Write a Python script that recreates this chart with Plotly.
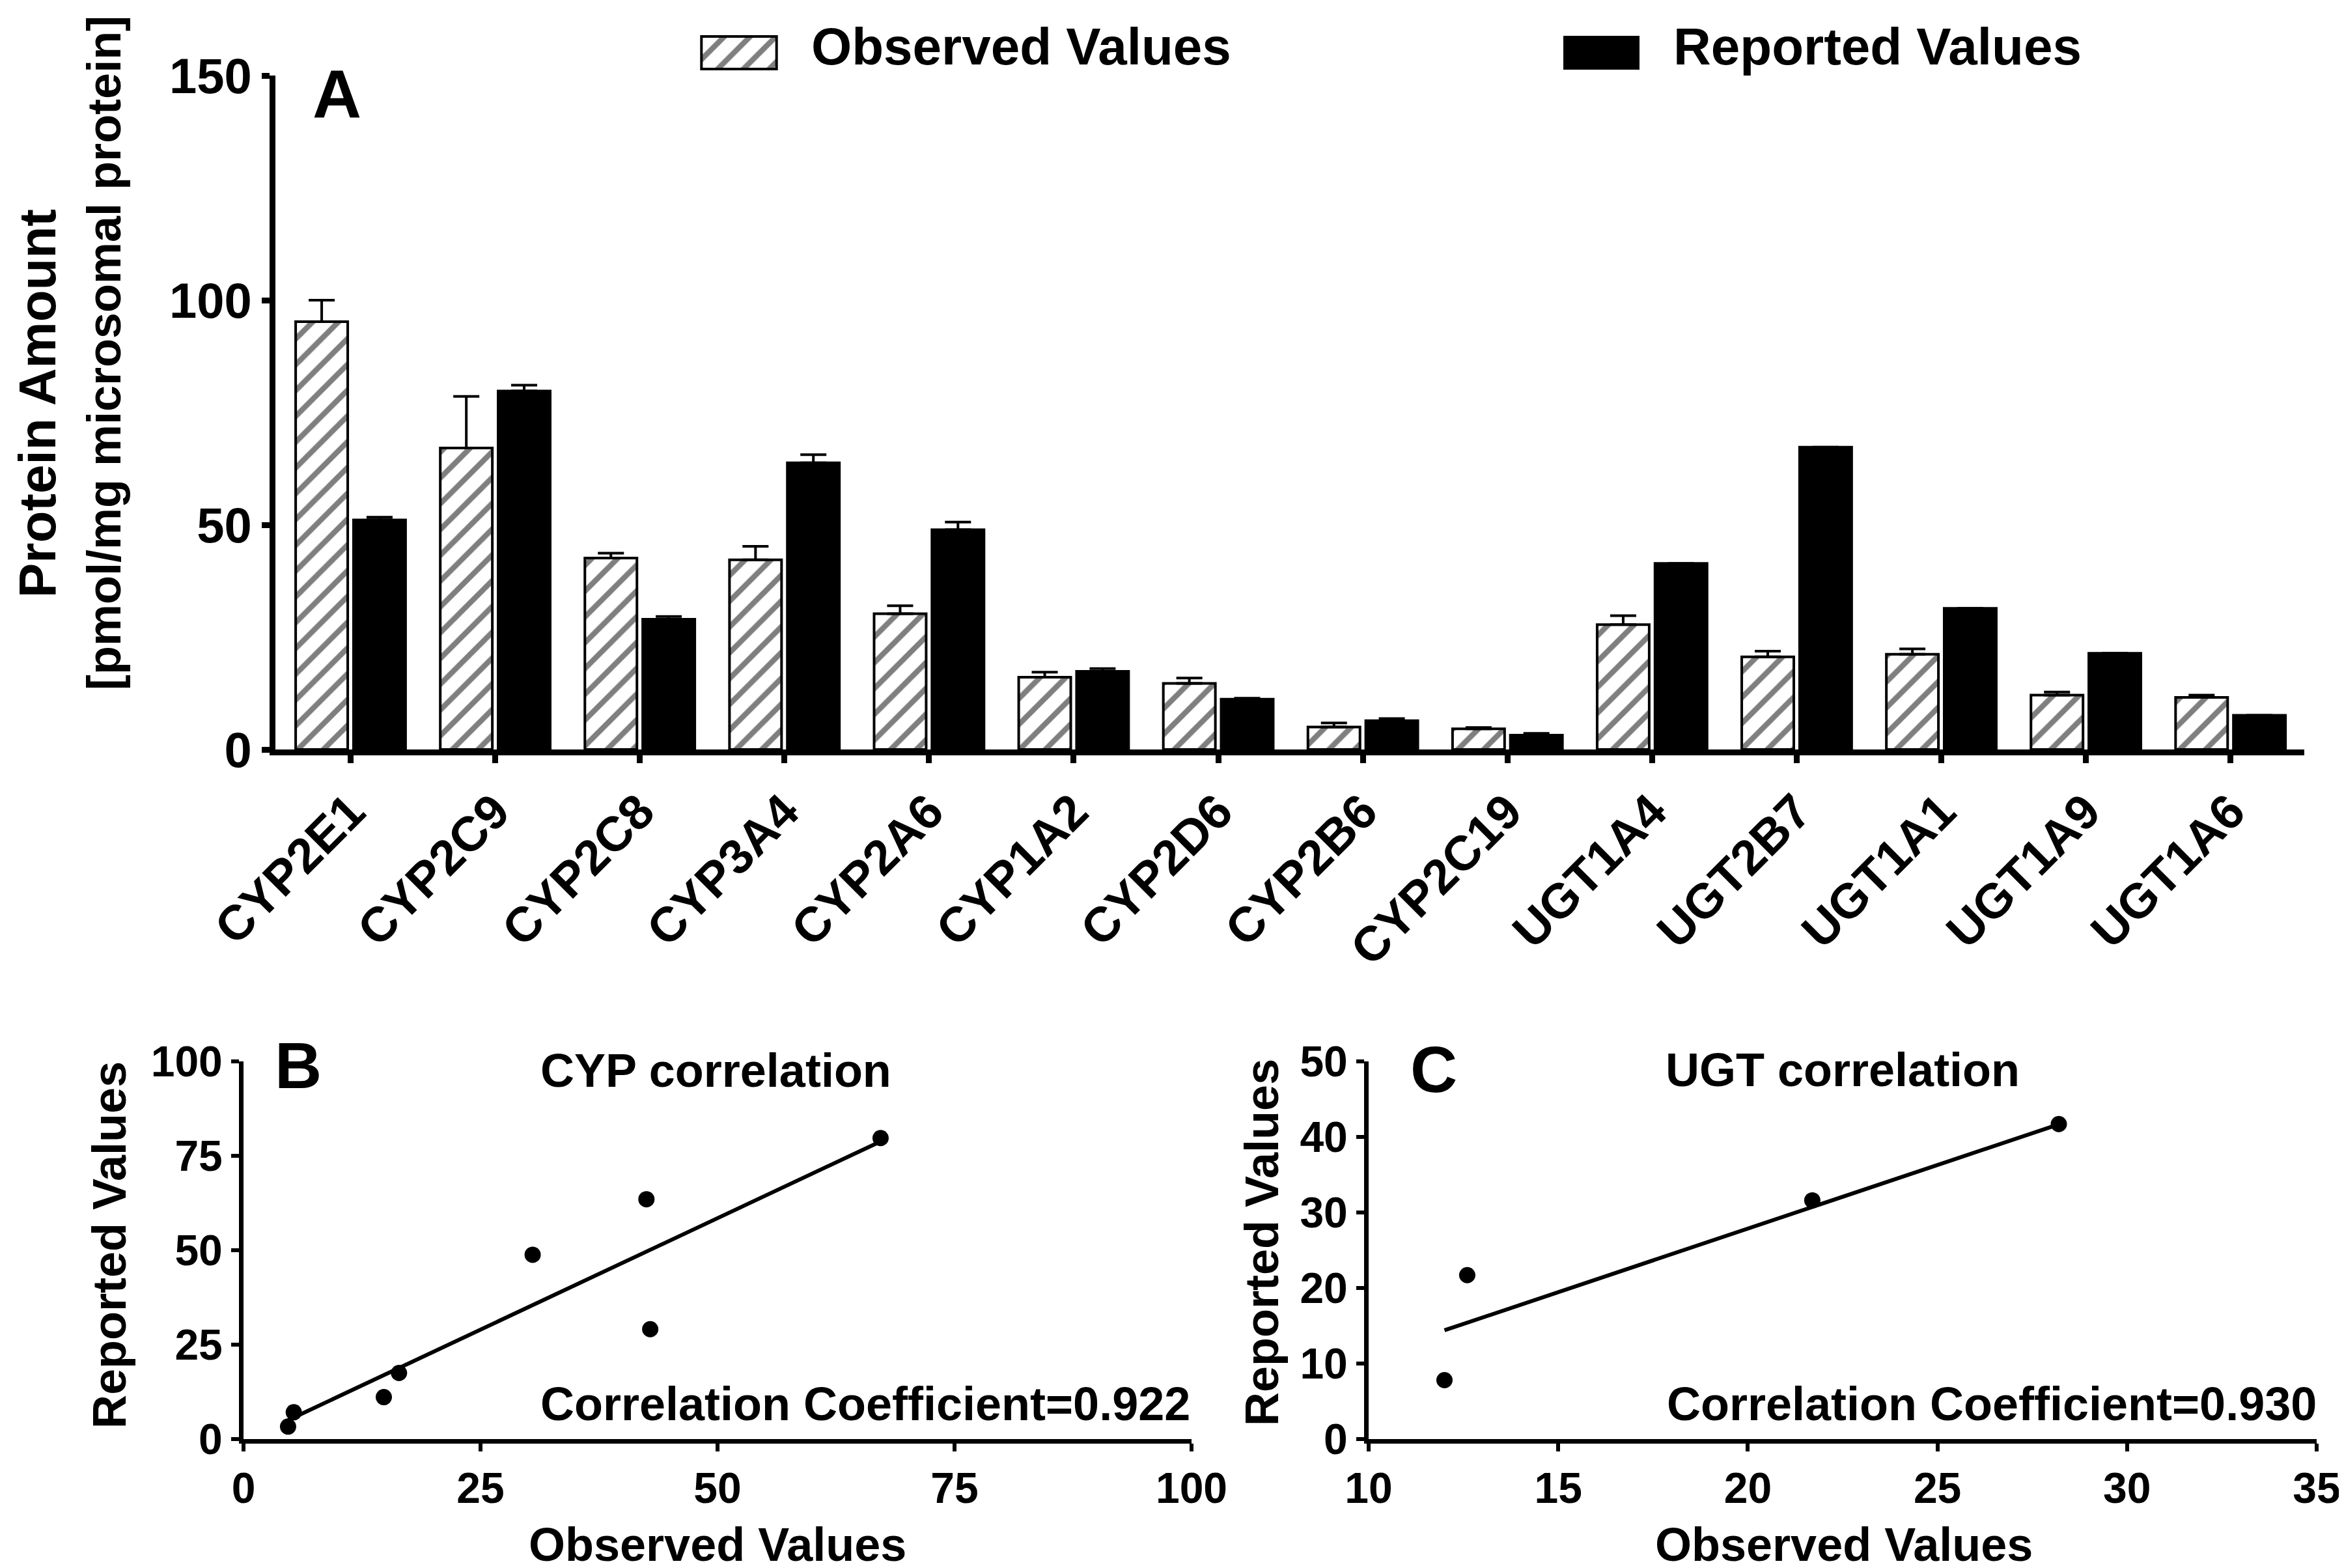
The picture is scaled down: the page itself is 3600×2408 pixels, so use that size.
import plotly.graph_objects as go

# panel A: protein amounts (pmol/mg microsomal protein)
genes = ["CYP2E1", "CYP2C9", "CYP2C8", "CYP3A4", "CYP2A6", "CYP1A2", "CYP2D6",
         "CYP2B6", "CYP2C19", "UGT1A4", "UGT2B7", "UGT1A1", "UGT1A9", "UGT1A6"]
observed = [95.2, 67.1, 42.6, 42.2, 30.2, 16.1, 14.7, 5.0, 4.6, 27.8, 20.6, 21.2, 12.1, 11.6]
observed_err = [4.8, 11.5, 1.1, 3.0, 1.8, 1.1, 1.2, 0.9, 0.3, 2.0, 1.3, 1.2, 0.7, 0.5]
reported = [51.1, 79.8, 29.0, 63.8, 48.9, 17.4, 11.2, 6.4, 3.2, 41.4, 67.3, 31.4, 21.4, 7.6]
reported_err = [0.6, 1.3, 0.6, 1.8, 1.7, 0.6, 0.2, 0.5, 0.4, 0, 0, 0, 0, 0]

# panel B: CYP correlation
cyp_observed = [67.2, 42.5, 42.9, 30.5, 16.4, 14.8, 5.3, 4.7]
cyp_reported = [79.7, 63.5, 29.1, 48.8, 17.5, 11.1, 7.1, 3.3]
cyp_fit_x = [4.7, 67.2]
cyp_fit_y = [5.0, 78.8]

# panel C: UGT correlation
ugt_observed = [28.2, 21.7, 12.6, 12.0]
ugt_reported = [41.7, 31.6, 21.7, 7.8]
ugt_fit_x = [12.0, 28.1]
ugt_fit_y = [14.4, 41.5]

W, H = 3600, 2408
FONT = "Liberation Sans, Arial, sans-serif"
NARROW = "Liberation Sans Narrow, Arial Narrow, Liberation Sans, Arial, sans-serif"


def px(x):
    return x / W


def py(y):
    return 1 - y / H


hatch = dict(shape="/", fgcolor="black", bgcolor="white", size=28, solidity=0.3)

fig = go.Figure()

fig.add_trace(go.Bar(
    x=genes, y=observed, name="Observed Values",
    marker=dict(color="white", pattern=hatch, line=dict(color="black", width=4)),
    error_y=dict(type="data", array=observed_err, arrayminus=[0] * len(genes),
                 symmetric=False, color="black", thickness=4, width=20),
    xaxis="x", yaxis="y", showlegend=False,
))
fig.add_trace(go.Bar(
    x=genes, y=reported, name="Reported Values",
    marker=dict(color="black", line=dict(color="black", width=4)),
    error_y=dict(type="data", array=reported_err, arrayminus=[0] * len(genes),
                 symmetric=False, color="black", thickness=4, width=20),
    xaxis="x", yaxis="y", showlegend=False,
))

# scatter panels
fig.add_trace(go.Scatter(x=cyp_observed, y=cyp_reported, mode="markers",
                         marker=dict(color="black", size=25), xaxis="x2", yaxis="y2",
                         showlegend=False, cliponaxis=False))
fig.add_trace(go.Scatter(x=cyp_fit_x, y=cyp_fit_y, mode="lines",
                         line=dict(color="black", width=6), xaxis="x2", yaxis="y2",
                         showlegend=False))
fig.add_trace(go.Scatter(x=ugt_observed, y=ugt_reported, mode="markers",
                         marker=dict(color="black", size=25), xaxis="x3", yaxis="y3",
                         showlegend=False, cliponaxis=False))
fig.add_trace(go.Scatter(x=ugt_fit_x, y=ugt_fit_y, mode="lines",
                         line=dict(color="black", width=6), xaxis="x3", yaxis="y3",
                         showlegend=False))

# hatched legend swatch
fig.add_trace(go.Bar(x=[0], y=[1], width=[1], base=[0],
                     marker=dict(color="white", pattern=hatch, line=dict(color="black", width=4)),
                     xaxis="x4", yaxis="y4", showlegend=False, hoverinfo="skip"))


def axis_style(lw, tw, size, family=FONT):
    return dict(showline=True, linecolor="black", linewidth=lw, mirror=False,
                ticks="outside", ticklen=12, tickwidth=tw, tickcolor="black",
                showgrid=False, zeroline=False, automargin=False,
                tickfont=dict(family=family, size=size, color="black", weight="bold"))


fig.update_layout(
    width=W, height=H,
    margin=dict(l=0, r=0, t=0, b=0, pad=0),
    paper_bgcolor="white", plot_bgcolor="white",
    barmode="group", bargap=0.2, bargroupgap=0.1,
    xaxis=dict(domain=[px(415), px(3531)], anchor="y", type="category",
               range=[-0.52, 13.51], tickangle=-45, **axis_style(9, 9, 75)),
    yaxis=dict(domain=[py(1143), py(108)], anchor="x", range=[0, 150],
               tickvals=[0, 50, 100, 150], **axis_style(9, 9, 76)),
    xaxis2=dict(domain=[px(366), px(1822)], anchor="y2", range=[0, 100],
                tickvals=[0, 25, 50, 75, 100], **axis_style(7, 6, 66, NARROW)),
    yaxis2=dict(domain=[py(2202), py(1622)], anchor="x2", range=[0, 100],
                tickvals=[0, 25, 50, 75, 100], **axis_style(7, 6, 66, NARROW)),
    xaxis3=dict(domain=[px(2094), px(3550)], anchor="y3", range=[10, 35],
                tickvals=[10, 15, 20, 25, 30, 35], **axis_style(7, 6, 66, NARROW)),
    yaxis3=dict(domain=[py(2202), py(1622)], anchor="x3", range=[0, 50],
                tickvals=[0, 10, 20, 30, 40, 50], **axis_style(7, 6, 66, NARROW)),
    xaxis4=dict(domain=[px(1067), px(1187)], anchor="y4", range=[-0.52, 0.52],
                visible=False, automargin=False),
    yaxis4=dict(domain=[py(100), py(46)], anchor="x4", range=[-0.04, 1.04],
                visible=False, automargin=False),
)

# black legend swatch
fig.add_shape(type="rect", xref="paper", yref="paper",
              x0=px(2394), x1=px(2509), y0=py(98), y1=py(48),
              fillcolor="black", line=dict(color="black", width=2))


def label(text, x, y, size, xanchor="center", angle=0, family=FONT):
    fig.add_annotation(text=text, x=px(x), y=py(y), xref="paper", yref="paper",
                       xanchor=xanchor, yanchor="middle", textangle=angle,
                       showarrow=False,
                       font=dict(family=family, size=size, color="black", weight="bold"))


# legend text
label("Observed Values", 1236, 64, 80, xanchor="left")
label("Reported Values", 2560, 64, 80, xanchor="left")

# panel letters
label("A", 509, 136, 104)
label("B", 450, 1628, 100)
label("C", 2194, 1634, 100)

# axis titles
label("Protein Amount", 50, 612, 80, angle=-90)
label("[pmol/mg microsomal protein]", 152, 534, 72, angle=-90)
label("Reported Values", 160, 1904, 72, angle=-90)
label("Reported Values", 1930, 1900, 72, angle=-90)
label("Observed Values", 1094, 2364, 72)
label("Observed Values", 2824, 2364, 72)

# panel titles and coefficients
label("CYP correlation", 1091, 1636, 72)
label("UGT correlation", 2822, 1635, 72)
label("Correlation Coefficient=0.922", 1822, 2148, 72, xanchor="right")
label("Correlation Coefficient=0.930", 3552, 2148, 72, xanchor="right")

fig.write_html("out.html")
